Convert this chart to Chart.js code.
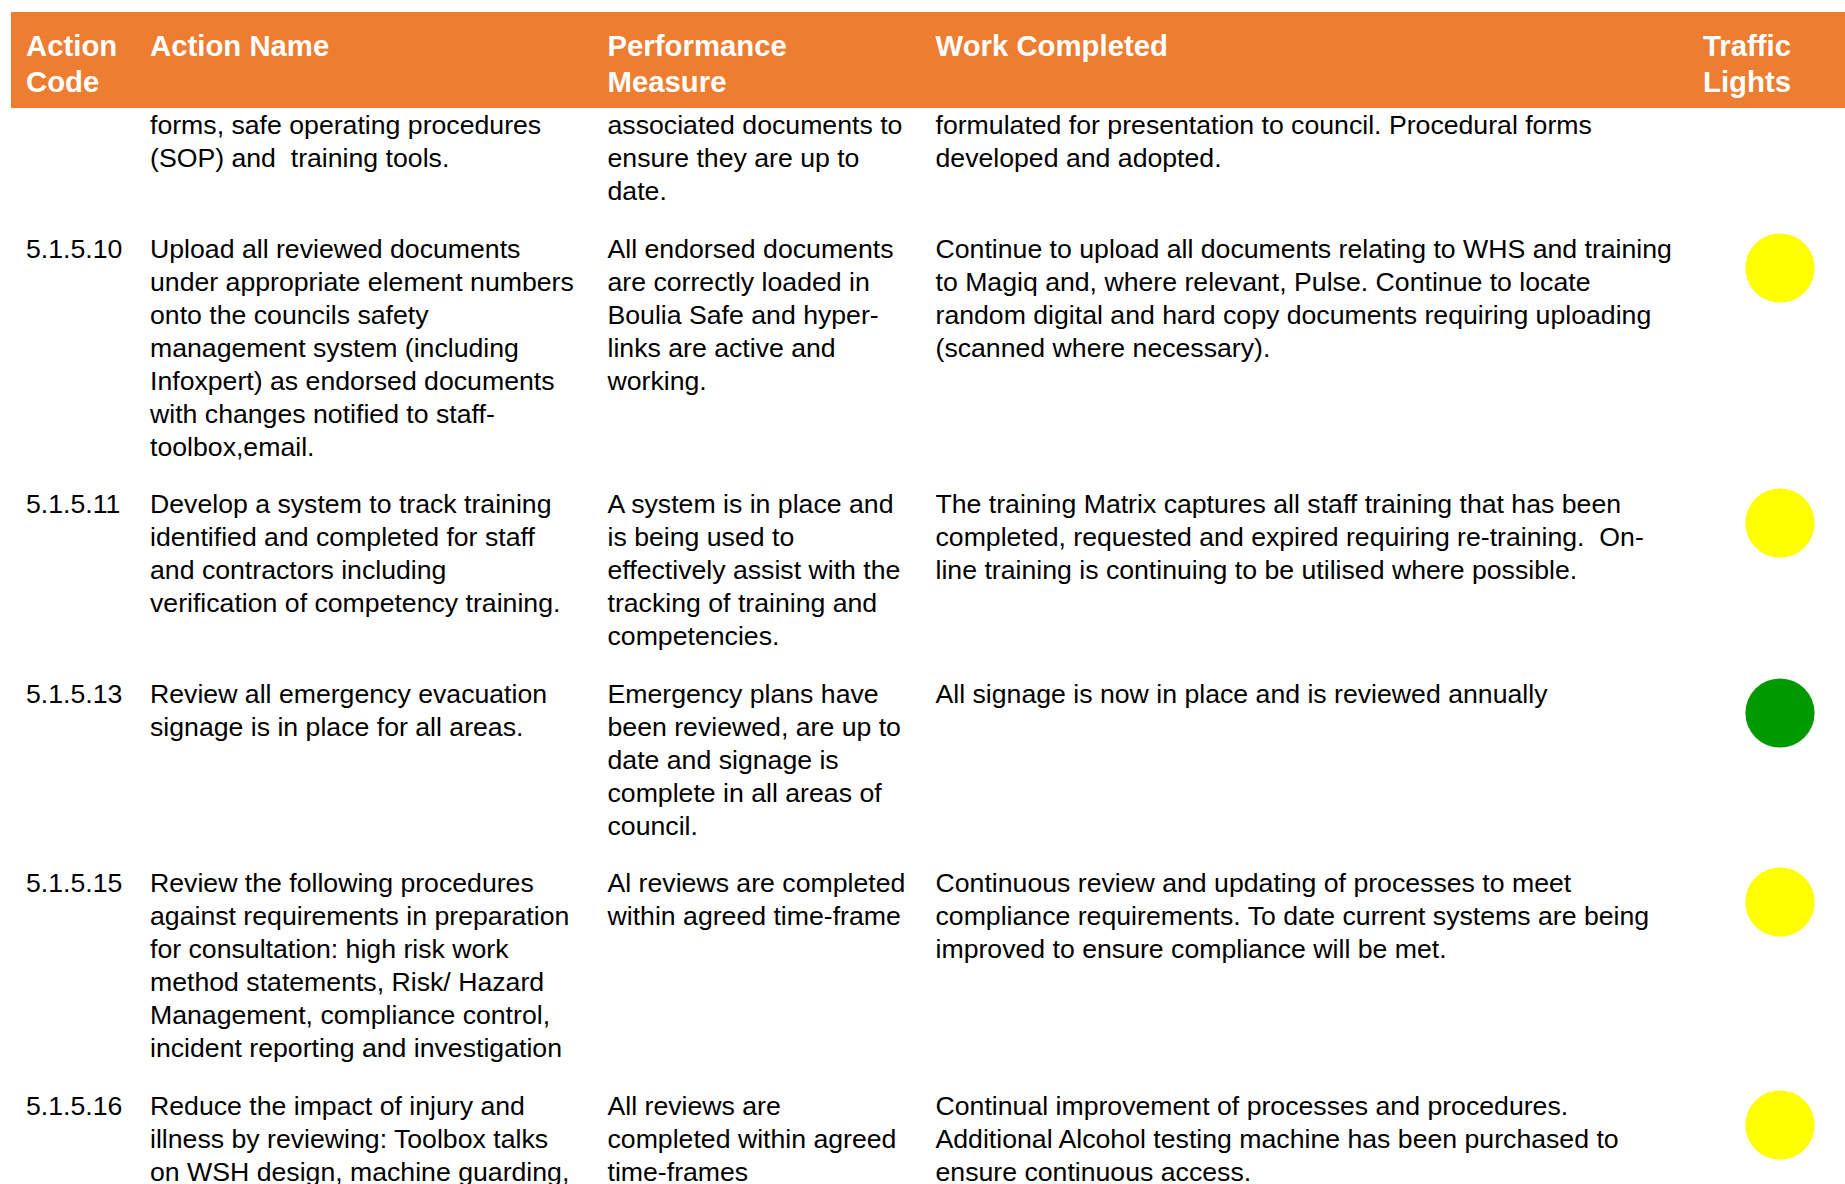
<!DOCTYPE html>
<html>
<head>
<meta charset="utf-8">
<script src="https://cdn.jsdelivr.net/npm/chart.js@4/dist/chart.umd.min.js"></script>
<style>
  html, body { margin: 0; padding: 0; background: #fff; }
  body { width: 1845px; height: 1184px; overflow: hidden; position: relative;
         font-family: "Liberation Sans", Arial, sans-serif; color: #000; }
  #hdr { position: absolute; left: 11px; top: 12px; width: 1834px; height: 96.3px; background: #ED7D31; }
  .grid { display: grid; grid-template-columns: 124px 457.5px 328px 767.5px 142px; padding-left: 26px; }
  #hdrGrid { position: absolute; left: 0; top: 12px; width: 1845px; box-sizing: border-box;
             padding-top: 15.6px; font-weight: bold; font-size: 29.33px; line-height: 36.5px; color: #fff; }
  #body { position: absolute; left: 0; top: 109.2px; width: 1845px; }
  .row { position: relative; font-size: 26.67px; line-height: 33px; padding-bottom: 24.5px; }
  .cell { white-space: pre; }
  .light { position: absolute; left: 1740px; top: -5px; width: 80px; height: 80px; }
  .light canvas { display: block; width: 80px; height: 80px; }
</style>
</head>
<body>
<div id="hdr"></div>
<div id="hdrGrid" class="grid"></div>
<div id="body"></div>
<script>
// ---- data ----
const headers = ["Action\nCode", "Action Name", "Performance\nMeasure", "Work Completed", "Traffic\nLights"];

const actionCodes = ["", "5.1.5.10", "5.1.5.11", "5.1.5.13", "5.1.5.15", "5.1.5.16"];

const actionNames = [
  ["forms, safe operating procedures", "(SOP) and  training tools."],
  ["Upload all reviewed documents", "under appropriate element numbers", "onto the councils safety",
   "management system (including", "Infoxpert) as endorsed documents", "with changes notified to staff-", "toolbox,email."],
  ["Develop a system to track training", "identified and completed for staff", "and contractors including",
   "verification of competency training."],
  ["Review all emergency evacuation", "signage is in place for all areas."],
  ["Review the following procedures", "against requirements in preparation", "for consultation: high risk work",
   "method statements, Risk/ Hazard", "Management, compliance control,", "incident reporting and investigation"],
  ["Reduce the impact of injury and", "illness by reviewing: Toolbox talks", "on WSH design, machine guarding,"]
];

const performanceMeasures = [
  ["associated documents to", "ensure they are up to", "date."],
  ["All endorsed documents", "are correctly loaded in", "Boulia Safe and hyper-", "links are active and", "working."],
  ["A system is in place and", "is being used to", "effectively assist with the", "tracking of training and", "competencies."],
  ["Emergency plans have", "been reviewed, are up to", "date and signage is", "complete in all areas of", "council."],
  ["Al reviews are completed", "within agreed time-frame"],
  ["All reviews are", "completed within agreed", "time-frames"]
];

const workCompleted = [
  ["formulated for presentation to council. Procedural forms", "developed and adopted."],
  ["Continue to upload all documents relating to WHS and training", "to Magiq and, where relevant, Pulse. Continue to locate",
   "random digital and hard copy documents requiring uploading", "(scanned where necessary)."],
  ["The training Matrix captures all staff training that has been", "completed, requested and expired requiring re-training.  On-",
   "line training is continuing to be utilised where possible."],
  ["All signage is now in place and is reviewed annually"],
  ["Continuous review and updating of processes to meet", "compliance requirements. To date current systems are being",
   "improved to ensure compliance will be met."],
  ["Continual improvement of processes and procedures.", "Additional Alcohol testing machine has been purchased to",
   "ensure continuous access."]
];

const trafficLights = [null, "yellow", "yellow", "green", "yellow", "yellow"];
const lightColours = { yellow: "#FFFF00", green: "#009900", red: "#FF0000" };

// ---- header ----
const hdrGrid = document.getElementById("hdrGrid");
headers.forEach(h => {
  const d = document.createElement("div");
  d.className = "cell";
  d.textContent = h;
  hdrGrid.appendChild(d);
});

// ---- rows ----
const bodyEl = document.getElementById("body");
actionCodes.forEach((code, i) => {
  const row = document.createElement("div");
  row.className = "row grid";
  [code, actionNames[i].join("\n"), performanceMeasures[i].join("\n"), workCompleted[i].join("\n"), ""].forEach(t => {
    const c = document.createElement("div");
    c.className = "cell";
    c.textContent = t;
    row.appendChild(c);
  });
  bodyEl.appendChild(row);

  const status = trafficLights[i];
  if (status) {
    const wrap = document.createElement("div");
    wrap.className = "light";
    const cv = document.createElement("canvas");
    cv.width = 80;
    cv.height = 80;
    wrap.appendChild(cv);
    row.appendChild(wrap);
    new Chart(cv, {
      type: "scatter",
      data: {
        datasets: [{
          label: code,
          data: [{ x: 0, y: 0 }],
          backgroundColor: lightColours[status],
          borderColor: lightColours[status],
          borderWidth: 0,
          radius: 34.6,
          pointRadius: 34.6,
          hoverRadius: 34.6,
          pointHoverRadius: 34.6,
          clip: false
        }]
      },
      options: {
        responsive: false,
        animation: false,
        events: [],
        layout: { padding: 0 },
        elements: { point: { radius: 34.6, hoverRadius: 34.6, borderWidth: 0 } },
        plugins: { legend: { display: false }, tooltip: { enabled: false } },
        scales: {
          x: { type: "linear", display: false, min: -1, max: 1 },
          y: { type: "linear", display: false, min: -1, max: 1 }
        }
      }
    });
  }
});
</script>
</body>
</html>
